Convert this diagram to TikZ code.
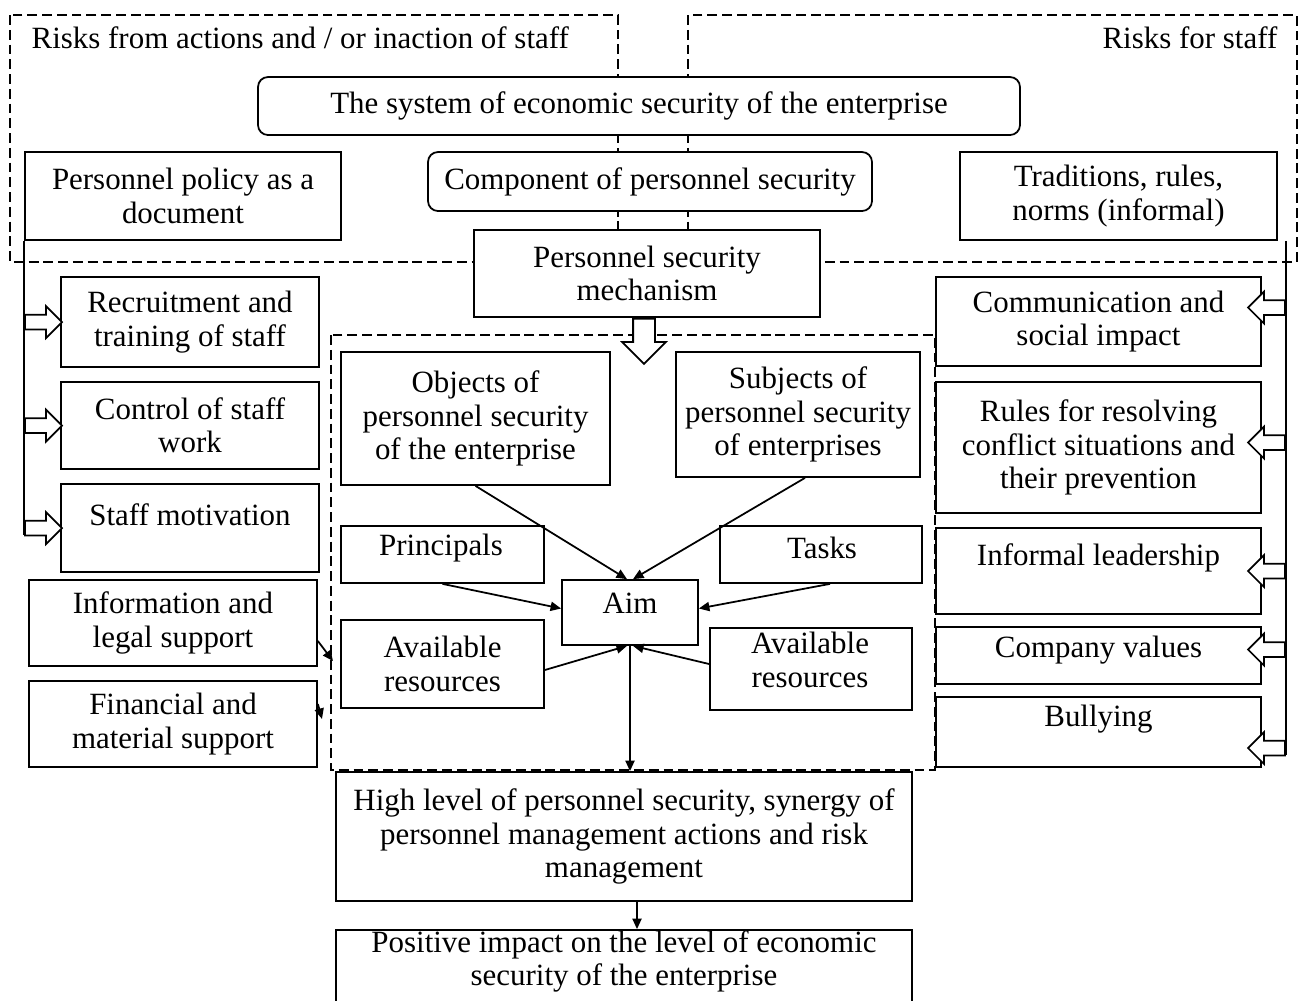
\documentclass[tikz,border=0pt]{standalone}
\usepackage{fontspec}
\setmainfont{Liberation Serif}
\usetikzlibrary{arrows.meta,shapes.arrows,calc}

\tikzset{
	frame/.style={line width=0.5pt, dash pattern=on 2.8pt off 1.4pt},
	txt/.style={align=center, inner sep=0pt, font=\fontsize{8.8}{9.5}\selectfont},
	box/.style={txt, draw, fill=white, line width=0.5pt},
	rbox/.style={box, rounded corners=0.1cm},
	hollow/.style={single arrow, draw, fill=white, line width=0.5pt, inner xsep=0pt, minimum width=0pt, single arrow head indent=0pt},
	sidearr/.style={hollow, inner ysep=0.065cm, single arrow head extend=0.085cm, minimum height=0.37cm, anchor=tail},
	link/.style={-{Triangle[length=3pt,width=2.6pt]}, line width=0.5pt},
}

\begin{document}
\begin{tikzpicture}[x=1cm, y=-1cm]
			%%%%% START %%%%%
			\useasboundingbox (0,0) rectangle (13.01,10.01);
			
			% risk areas
			\draw[frame] (0.10,0.15) rectangle (6.18,2.62);
			\draw[frame] (6.88,0.15) rectangle (12.97,2.62);
			\draw[frame] (3.31,3.35) rectangle (9.35,7.70);
			\node[txt, anchor=west] (riskin) at (0.31,0.38) {Risks from actions and / or inaction of staff};
			\node[txt, anchor=east] (riskfor) at (12.78,0.38) {Risks for staff};
			
			% top row
			\node[rbox, minimum width=7.62cm, minimum height=0.58cm] (sys) at (6.39,1.06) {The system of economic security of the enterprise};
			\node[box, minimum width=3.16cm, minimum height=0.88cm] (policy) at (1.83,1.96) {Personnel policy as a\\document};
			\node[rbox, minimum width=4.44cm, minimum height=0.59cm] (comp) at (6.50,1.815) {Component of personnel security};
			\node[box, minimum width=3.17cm, minimum height=0.88cm] (trad) at (11.185,1.96) {Traditions, rules,\\norms (informal)};
			\node[box, minimum width=3.46cm, minimum height=0.87cm] (mech) at (6.47,2.735) {Personnel security\\mechanism};
			\node[hollow, inner xsep=0.10cm, inner ysep=0pt, single arrow head extend=0.11cm, minimum height=0.45cm, shape border rotate=270, anchor=tail] (down) at ([xshift=-0.03cm]mech.south) {};
			
			% left column
			\node[box, minimum width=2.58cm, minimum height=0.90cm] (recr) at (1.90,3.22) {Recruitment and\\training of staff};
			\node[box, minimum width=2.58cm, minimum height=0.87cm] (ctrl) at (1.90,4.255) {Control of staff\\work};
			\node[box, minimum width=2.58cm, minimum height=0.88cm] (motv) at (1.90,5.28) {};
			\node[txt] (motvT) at (1.90,5.15) {Staff motivation};
			\node[box, minimum width=2.88cm, minimum height=0.86cm] (info) at (1.73,6.23) {Information and\\legal support};
			\node[box, minimum width=2.88cm, minimum height=0.86cm] (fin) at (1.73,7.24) {Financial and\\material support};
			
			\coordinate (lline) at (policy.south west);
			\foreach \b in {recr,ctrl,motv}
				\node[sidearr] (in\b) at (lline |- \b.west) {};
			\draw[line width=0.5pt] (lline) -- ([yshift=-0.065cm]lline |- inmotv.tail);
			
			\coordinate (infoTo) at (3.33,6.61);
			\coordinate (finTo) at (3.22,7.19);
			\draw[link] ([yshift=-0.18cm]info.east) -- (infoTo);
			\draw[link] ([yshift=0.20cm]fin.east) -- (finTo);
			
			% right column
			\node[box, minimum width=3.25cm, minimum height=0.89cm] (comm) at (10.985,3.215) {Communication and\\social impact};
			\node[box, minimum width=3.25cm, minimum height=1.31cm] (rules) at (10.985,4.475) {Rules for resolving\\conflict situations and\\their prevention};
			\node[box, minimum width=3.25cm, minimum height=0.86cm] (lead) at (10.985,5.71) {};
			\node[txt] (leadT) at (10.985,5.58) {Informal leadership};
			\node[box, minimum width=3.25cm, minimum height=0.57cm] (vals) at (10.985,6.555) {};
			\node[txt] (valsT) at (10.985,6.50) {Company values};
			\node[box, minimum width=3.25cm, minimum height=0.70cm] (bully) at (10.985,7.32) {};
			\node[txt] (bullyT) at (10.985,7.19) {Bullying};
			
			\coordinate (rline) at ([xshift=0.08cm]trad.south east);
			\foreach \b/\s in {comm/0.14cm, rules/0.05cm, lead/0cm, vals/0.06cm, bully/-0.16cm}
				\node[sidearr, shape border rotate=180, yshift=\s] (out\b) at (rline |- \b.east) {};
			\draw[line width=0.5pt] (rline) -- ([yshift=-0.065cm]rline |- outbully.tail);
			
			% core
			\node[box, minimum width=2.69cm, minimum height=1.33cm] (obj) at (4.755,4.185) {Objects of\\personnel security\\of the enterprise};
			\node[box, minimum width=2.44cm, minimum height=1.25cm] (subj) at (7.98,4.145) {Subjects of\\personnel security\\of enterprises};
			\node[box, minimum width=2.03cm, minimum height=0.57cm] (princ) at (4.425,5.545) {};
			\node[txt] (princT) at (4.41,5.48) {Principals};
			\node[box, minimum width=2.02cm, minimum height=0.57cm] (tasks) at (8.21,5.545) {};
			\node[txt] (tasksT) at (8.22,5.48) {Tasks};
			\node[box, minimum width=1.36cm, minimum height=0.65cm] (aim) at (6.30,6.125) {};
			\node[txt] (aimT) at (6.30,6.03) {Aim};
			\node[box, minimum width=2.03cm, minimum height=0.88cm] (resL) at (4.425,6.64) {Available\\resources};
			\node[box, minimum width=2.02cm, minimum height=0.82cm] (resR) at (8.11,6.69) {};
			\node[txt] (resRT) at (8.10,6.60) {Available\\resources};
			
			\draw[link] (obj.south) -- ([xshift=-0.03cm]aim.north);
			\draw[link] ([xshift=0.07cm]subj.south) -- ([xshift=0.03cm]aim.north);
			\draw[link] (princ.south) -- ([yshift=0.04cm]aim.west);
			\draw[link] ([xshift=0.09cm]tasks.south) -- ([yshift=0.04cm]aim.east);
			\draw[link] ([yshift=-0.06cm]resL.east) -- ([xshift=-0.03cm]aim.south);
			\draw[link] ([yshift=0.05cm]resR.west) -- ([xshift=0.03cm]aim.south);
			
			% result
			\node[box, minimum width=5.76cm, minimum height=1.29cm] (high) at (6.24,8.365) {High level of personnel security, synergy of\\personnel management actions and risk\\management};
			\node[box, minimum width=5.76cm, minimum height=1.0cm] (pos) at (6.24,9.80) {};
			\node[txt] (posT) at (6.24,9.615) {Positive impact on the level of economic\\security of the enterprise};
			
			\draw[link] (aim.south) -- (aim.south |- high.north);
			\draw[link] ([xshift=0.13cm]high.south) -- ([xshift=0.13cm]high.south |- pos.north);
			%%%%% END %%%%%
\end{tikzpicture}
\end{document}
